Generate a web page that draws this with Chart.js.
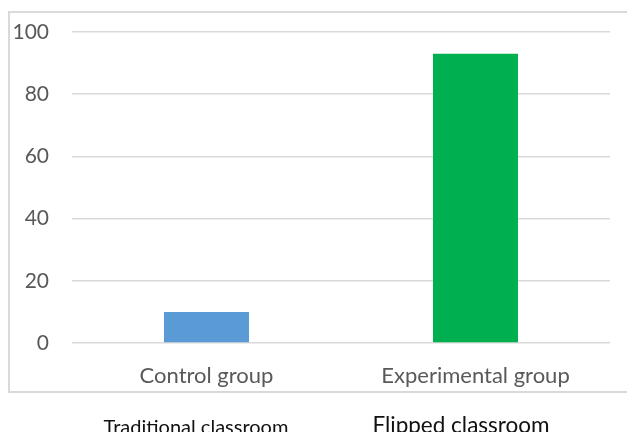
<!DOCTYPE html>
<html><head><meta charset="utf-8">
<script src="https://cdn.jsdelivr.net/npm/chart.js@4.4.0/dist/chart.umd.min.js"></script>
<style>
html,body{margin:0;padding:0;background:#fff;width:627px;height:432px;overflow:hidden;}
#frame{position:absolute;left:8px;top:11px;width:640px;height:382px;border:2px solid #d9d9d9;box-sizing:border-box;}
#wrap{position:absolute;left:0;top:0;width:627px;height:432px;}
.cap{position:absolute;font-family:Lato,"Open Sans",sans-serif;color:#111;white-space:nowrap;transform:translateX(-50%);line-height:1;}
</style></head>
<body>
<div id="frame"></div>
<div id="wrap"><canvas id="c"></canvas></div>
<div class="cap" style="left:196px;top:416px;font-size:20px;">Traditional classroom</div>
<div class="cap" style="left:461px;top:414px;font-size:22.5px;">Flipped classroom</div>
<script>
const categories = ["Control group", "Experimental group"];
const values = [10, 93];
const barColors = ["#5B9BD5", "#00B050"];
const yTicks = [0, 20, 40, 60, 80, 100];

new Chart(document.getElementById('c'), {
  type: 'bar',
  data: {
    labels: categories,
    datasets: [{ data: values, backgroundColor: barColors, borderWidth: 0,
      barPercentage: 0.316, categoryPercentage: 1.0 }]
  },
  options: {
    responsive: true, maintainAspectRatio: false, animation: false,
    layout: { padding: { top: 32, right: 17, left: 0, bottom: 0 } },
    plugins: { legend: { display: false }, tooltip: { enabled: false } },
    scales: {
      x: {
        grid: { display: false, drawTicks: false },
        border: { display: false },
        ticks: { padding: 20, color: '#595959', font: { family: 'Lato', size: 22 } },
        afterFit: s => { s.height = 89; s.paddingLeft = 0; s.paddingRight = 0; }
      },
      y: {
        min: 0, max: 100,
        afterBuildTicks: s => { s.ticks = yTicks.map(v => ({ value: v })); },
        grid: { color: '#d9d9d9', lineWidth: 1.5, drawTicks: false },
        border: { display: false },
        ticks: { padding: 23, color: '#595959', font: { family: 'Lato', size: 21 } },
        afterFit: s => { s.width = 72; s.paddingTop = 0; s.paddingBottom = 0; }
      }
    }
  }
});
</script>
</body></html>
